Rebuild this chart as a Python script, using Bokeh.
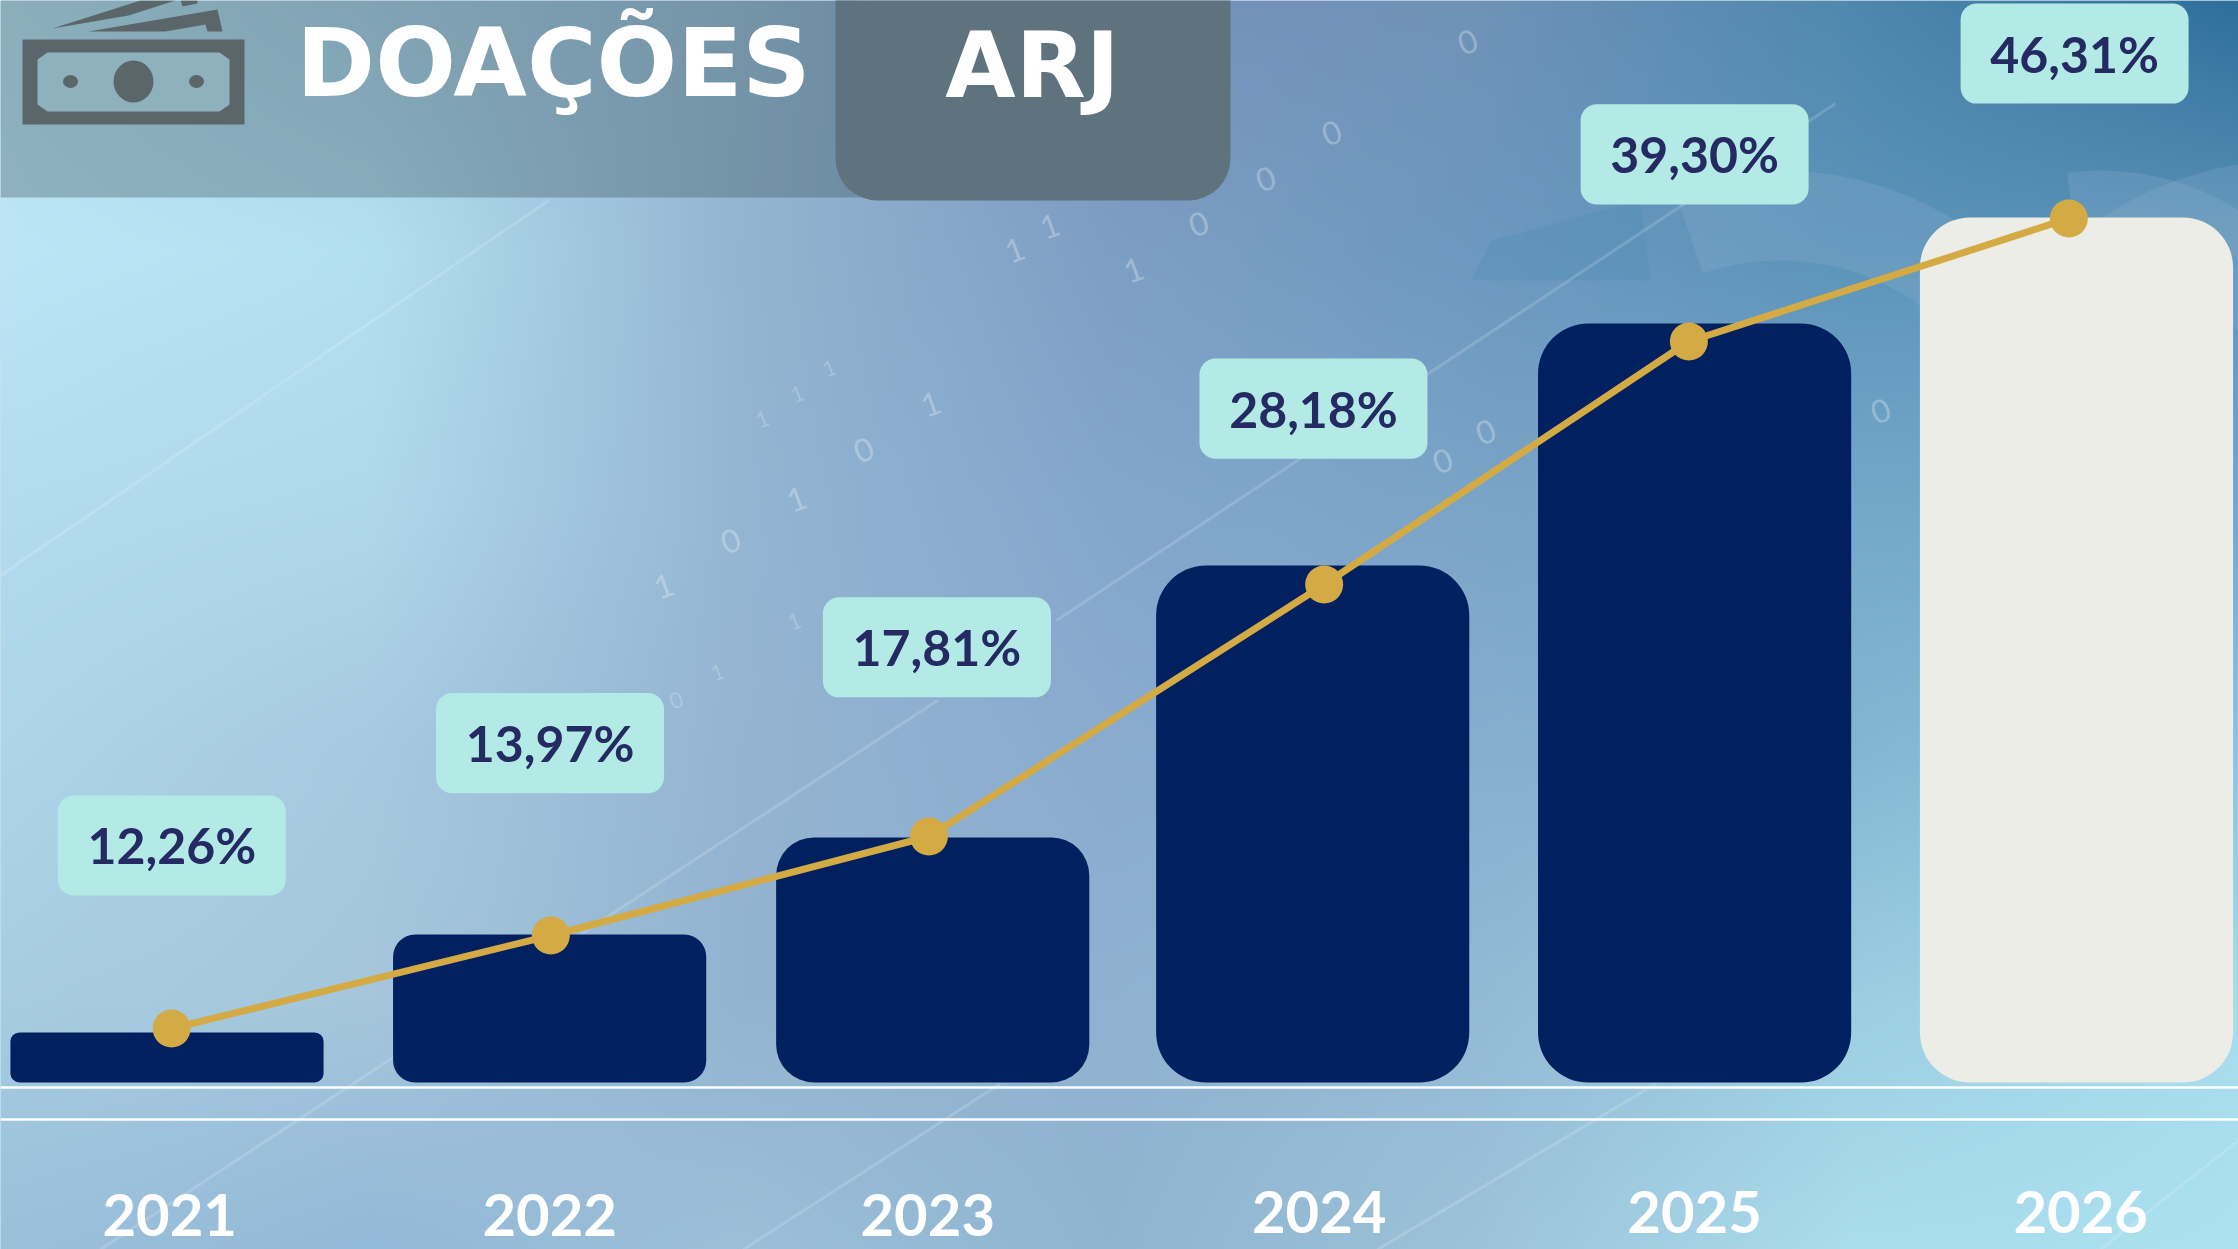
import numpy as np
from bokeh.plotting import figure
from bokeh.models import Range1d
from bokeh.core.properties import value
from bokeh.embed import file_html
from bokeh.resources import INLINE

# ---- chart data ----
years = [2021, 2022, 2023, 2024, 2025, 2026]
bar_values = [2.68, 7.92, 13.12, 27.68, 40.63, 46.31]
line_values = [2.89, 7.87, 13.17, 26.66, 39.67, 46.26]
label_values = [12.69, 18.17, 23.30, 36.08, 49.69, 55.09]
label_texts = ["12,26%", "13,97%", "17,81%", "28,18%", "39,30%", "46,31%"]
year_texts = ["2021", "2022", "2023", "2024", "2025", "2026"]
title_text = "DOAÇÕES"
tab_text = "ARJ"

# ---- where each element sits along the year axis in the picture ----
bar_years = [2021, 2022.002, 2023.005, 2024, 2025, 2026]
line_years = [2021.012, 2022.005, 2022.995, 2024.03, 2024.985, 2025.98]
label_years = [2021.0126, 2022.003, 2023.016, 2024.002, 2025, 2025.995]
text_years = [2021.007, 2022.002, 2022.992, 2024.017, 2025, 2026.011]

# ---- styles ----
NAVY = "#002060"
PALE = "#ecede7"
GOLD = "#d4aa45"
BOX = "#b3eae5"
INK = "#252a63"
ICON = "#5b666a"
corner_radii = [9, 22, 38, 50, 50, 50]
year_centers = [1214, 1214, 1214, 1211, 1211, 1211]

W, H = 2238, 1249
p = figure(width=W, height=H, output_backend="svg", toolbar_location=None,
           x_range=Range1d(2021 + (0 - 166.5) / 381.9, 2021 + (W - 166.5) / 381.9),
           y_range=Range1d((1082 - H) * 0.053538, 1082 * 0.053538),
           min_border=0, outline_line_color=None, background_fill_color="#9cc0da")
p.axis.visible = False
p.grid.visible = False
p.extra_x_ranges["px_x"] = Range1d(0, W)
p.extra_y_ranges["px_y"] = Range1d(H, 0)
p.extra_y_ranges["img_y"] = Range1d(0, H)
PX = dict(x_range_name="px_x", y_range_name="px_y")

# ---- background picture (decoration) ----
grid_x = np.array([0, 370, 740, 1110, 1480, 1850, 2238], float)
grid_y = np.array([0, 250, 500, 750, 1000, 1249], float)
grid_hex = [
    ["b8e0f0", "a8cfe4", "96b8d2", "7693bc", "6f92b8", "4f88ae", "2f6f9c"],
    ["bce6f6", "b3e0f1", "93b5d0", "7e9fc4", "6d98bf", "5c94ba", "5b93b8"],
    ["b3dcef", "b0d8ec", "94b6d3", "83a6cc", "7aa4c8", "74a8c9", "74a8c9"],
    ["aed5e9", "a6cae1", "95b4d1", "89accf", "86aecf", "84b6d3", "8cc4dc"],
    ["a7cde2", "a5c6dc", "92b4d0", "8fb2d1", "93bad5", "9ccde1", "a8dced"],
    ["9ac0da", "93b9d8", "9cc0d8", "8fb5d0", "9dc3da", "aadded", "abe1f0"],
]
grid_rgb = np.array([[[int(c[i:i + 2], 16) for i in (0, 2, 4)] for c in row] for row in grid_hex], float)
sx = np.linspace(0, W, 1119)
sy = np.linspace(H, 0, 625)
tmp = np.stack([[np.interp(sx, grid_x, grid_rgb[j, :, k]) for k in range(3)] for j in range(len(grid_y))])
rgb = np.stack([[np.interp(sy, grid_y, tmp[:, k, i]) for i in range(len(sx))] for k in range(3)], axis=-1)
rgb = rgb.transpose(1, 0, 2)
img = np.zeros((len(sy), len(sx)), dtype=np.uint32)
view = img.view(dtype=np.uint8).reshape((len(sy), len(sx), 4))
view[..., 0:3] = np.clip(rgb, 0, 255).astype(np.uint8)
view[..., 3] = 255
p.image_rgba(image=[img], x=0, y=0, dw=W, dh=H, x_range_name="px_x", y_range_name="img_y")

# faint shapes of the backdrop
p.patch([1491, 1640, 1650, 1470], [240, 200, 280, 280], fill_color="#3f86ad", fill_alpha=0.2, line_color=None, **PX)
p.annular_wedge(x=[1780, 2100, 2290], y=[500, 430, 500], inner_radius=[240, 170, 250], outer_radius=[330, 260, 340],
                start_angle=[-0.2, 0.2, 0.4], end_angle=[1.9, 1.7, 2.4],
                fill_color="#9ab8d8", fill_alpha=0.2, line_color=None, **PX)
seg = [(0, 575, 548, 200), (100, 1249, 937, 700), (1056, 620, 1835, 103), (743, 1249, 1000, 1083),
       (1377, 1249, 1656, 1083), (2100, 1249, 2238, 1140)]
p.segment(x0=[s[0] for s in seg], y0=[s[1] for s in seg], x1=[s[2] for s in seg], y1=[s[3] for s in seg],
          line_color="white", line_alpha=0.16, line_width=3, **PX)
dig = [(1467, 41, "0"), (1331, 132, "0"), (1265, 178, "0"), (1198, 223, "0"), (1133, 269, "1"),
       (1014, 249, "1"), (1049, 225, "1"), (930, 403, "1"), (863, 449, "0"), (796, 498, "1"),
       (730, 540, "0"), (663, 585, "1"), (1485, 431, "0"), (1442, 460, "0"), (1880, 410, "0")]
p.text(x=[d[0] for d in dig], y=[d[1] for d in dig], text=[d[2] for d in dig], angle=0.35,
       text_color="white", text_alpha=0.3, text_font_size="32px", text_align="center",
       text_baseline="middle", text_font=value("Lato"), **PX)
dig2 = [(829, 368, "1"), (797, 394, "1"), (762, 419, "1"), (794, 621, "1"), (717, 672, "1"), (676, 700, "0")]
p.text(x=[d[0] for d in dig2], y=[d[1] for d in dig2], text=[d[2] for d in dig2], angle=0.35,
       text_color="white", text_alpha=0.22, text_font_size="22px", text_align="center",
       text_baseline="middle", text_font=value("Lato"), **PX)

# ---- header ----
p.quad(left=[0], right=[860], top=[0], bottom=[197], fill_color="#39535b", fill_alpha=0.35, line_color=None, **PX)
p.quad(left=[835], right=[1230], top=[-60], bottom=[200], fill_color="#5e737d", line_color=None,
       border_radius=42, **PX)
p.quad(left=[22], right=[244], top=[39], bottom=[124], fill_color=ICON, line_color=None, **PX)
p.patch([47, 219, 229, 229, 219, 47, 37, 37], [52, 52, 59, 104, 111, 111, 104, 59],
        fill_color="#8fb1bd", line_color=None, **PX)
p.ellipse(x=[133, 70, 196], y=[81, 81, 81], width=[40, 15, 15], height=[42, 13, 13],
          fill_color=ICON, line_color=None, **PX)
p.patch([52, 140, 175, 128], [28, 0, 0, 15], fill_color=ICON, line_color=None, **PX)
p.patch([180, 197, 197, 182], [0, 0, 3, 6], fill_color=ICON, line_color=None, **PX)
p.patch([88, 217, 222, 207, 205, 165], [31, 9, 31, 31, 24, 31], fill_color=ICON, line_color=None, **PX)
p.text(x=[553], y=[62], text=[title_text], text_color="white", text_font=value("DejaVu Sans"),
       text_font_style="bold", text_font_size="95px", text_align="center", text_baseline="middle", **PX)
p.text(x=[1032], y=[65], text=[tab_text], text_color="white", text_font=value("DejaVu Sans"),
       text_font_style="bold", text_font_size="91px", text_align="center", text_baseline="middle", **PX)

# ---- rules ----
p.segment(x0=[0, 0], x1=[W, W], y0=[1087, 1119], y1=[1087, 1119], line_color="white",
          line_width=2.5, line_alpha=0.95, **PX)

# ---- bars ----
for i, year in enumerate(years):
    p.vbar(x=[bar_years[i]], top=[bar_values[i]], bottom=[0], width=0.82,
           fill_color=PALE if year == 2026 else NAVY, line_color=None, border_radius=corner_radii[i])

# ---- labels ----
for i in range(len(years)):
    p.vbar(x=[label_years[i]], top=[label_values[i] + 2.68], bottom=[label_values[i] - 2.68], width=0.597,
           fill_color=BOX, line_color=None, border_radius=16)
p.text(x=label_years, y=label_values, text=label_texts, text_color=INK, text_font=value("Lato"),
       text_font_style="bold", text_font_size="50px", text_align="center", text_baseline="middle")

# ---- line ----
p.line(line_years, line_values, line_color=GOLD, line_width=7)
p.scatter(line_years, line_values, size=38, fill_color=GOLD, line_color=None)

# ---- years ----
p.text(x=text_years, y=year_centers, text=year_texts, text_color="white", text_font=value("Lato"),
       text_font_style="bold", text_font_size="58px", text_align="center", text_baseline="middle",
       y_range_name="px_y")

open("out.html", "w").write(file_html(p, INLINE))
